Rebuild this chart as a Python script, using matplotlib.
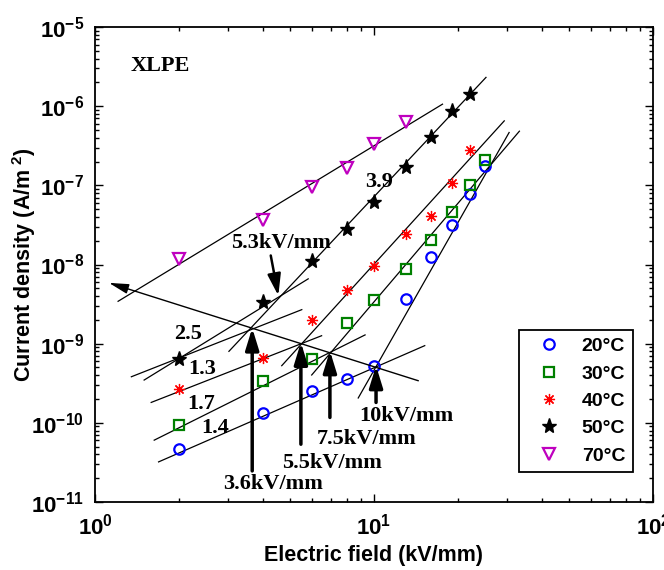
import matplotlib
matplotlib.use('Agg')
import matplotlib.pyplot as plt
from matplotlib.ticker import FixedLocator, LogLocator, NullFormatter

plt.rcParams['font.family'] = 'Liberation Sans'
plt.rcParams['mathtext.fontset'] = 'custom'
plt.rcParams['mathtext.rm'] = 'Liberation Sans:bold'
plt.rcParams['mathtext.bf'] = 'Liberation Sans:bold'
plt.rcParams['mathtext.it'] = 'Liberation Sans:bold'

# measured points, field in kV/mm, current density in A/m^2
field = [2, 4, 6, 8, 10, 13, 16, 19, 22, 25]
j20 = [4.7e-11, 1.35e-10, 2.49e-10, 3.57e-10, 5.16e-10, 3.68e-9, 1.23e-8, 3.2e-8, 7.7e-8, 1.75e-7]
j30 = [9.4e-11, 3.33e-10, 6.4e-10, 1.83e-9, 3.57e-9, 8.8e-9, 2.05e-8, 4.6e-8, 1.0e-7, 2.07e-7]
j40 = [2.67e-10, 6.5e-10, 2.0e-9, 4.7e-9, 9.5e-9, 2.45e-8, 4.05e-8, 1.08e-7, 2.77e-7]
j50 = [6.4e-10, 3.33e-9, 1.10e-8, 2.77e-8, 6.15e-8, 1.71e-7, 4.09e-7, 8.7e-7, 1.42e-6]
j70 = [1.18e-8, 3.7e-8, 9.5e-8, 1.67e-7, 3.37e-7, 6.3e-7]

# fitted straight lines (end points)
fit70 = ([1.21, 17.6], [3.43e-9, 1.06e-6])
fit50_hi = ([3.02, 25.2], [8.0e-10, 2.31e-6])
fit50_lo = ([1.50, 5.81], [3.47e-10, 6.59e-9])
fit50_lo2 = ([1.35, 5.51], [3.82e-10, 2.69e-9])
fit40_lo = ([1.59, 6.49], [1.81e-10, 1.26e-9])
fit40_hi = ([4.67, 29.3], [5.27e-10, 6.52e-7])
fit30_lo = ([1.63, 9.29], [6.04e-11, 1.29e-9])
fit30_hi = ([5.98, 33.2], [4.02e-10, 4.83e-7])
fit20_lo = ([1.69, 15.2], [3.21e-11, 9.44e-10])
fit20_hi = ([8.78, 30.5], [2.06e-10, 4.65e-7])

# threshold fields: x, arrow tip, arrow tail
thr_x = [3.66, 5.47, 6.95, 10.17]
thr_tip = [1.58e-9, 1.04e-9, 8.15e-10, 5.27e-10]
thr_tail = [2.47e-11, 5.37e-11, 1.17e-10, 1.81e-10]
thr_text = ['3.6kV/mm', '5.5kV/mm', '7.5kV/mm', '10kV/mm']

fig = plt.figure(figsize=(6.64, 5.70), dpi=100)
ax = fig.add_axes([95/664, 68/570, 558/664, 475/570])
ax.set_xscale('log')
ax.set_yscale('log')
ax.set_xlim(1, 100)
ax.set_ylim(1e-11, 1e-5)

for fx, fy in [fit70, fit50_hi, fit50_lo, fit50_lo2, fit40_lo, fit40_hi,
               fit30_lo, fit30_hi, fit20_lo, fit20_hi]:
    ax.plot(fx, fy, color='k', lw=0.9)

ax.plot(field, j20, 'o', ls='none', mfc='none', mec='b', mew=1.6, ms=7.5, label='20°C')
ax.plot(field, j30, 's', ls='none', mfc='none', mec='g', mew=1.6, ms=7.5, label='30°C')
ax.plot(field[:9], j40, marker=(8, 2, 0), ls='none', color='r', mew=0.9, ms=8, label='40°C')
ax.plot(field[:9], j50, '*', ls='none', color='k', ms=11, label='50°C')
ax.plot(field[:6], j70, 'v', ls='none', mfc='none', mec='m', mew=1.6, ms=9, label='70°C')

# threshold trend arrow
ax.annotate('', xy=(1.122, 5.86e-9), xytext=(14.42, 3.40e-10),
            arrowprops=dict(arrowstyle='-|>,head_length=0.8,head_width=0.2',
                            color='k', lw=1, mutation_scale=15, shrinkA=0, shrinkB=0))

serif = dict(family='Liberation Serif', weight='bold', size=16)
text_xy = [(4.345, 1.69e-11), (7.05, 3.14e-11), (9.41, 6.22e-11), (13.1, 1.23e-10)]
for x, tip, tail, t, (tx, ty) in zip(thr_x, thr_tip, thr_tail, thr_text, text_xy):
    ax.annotate('', xy=(x, tip), xytext=(x, tail),
                arrowprops=dict(arrowstyle='-|>,head_length=0.65,head_width=0.2',
                                color='k', lw=2.5, mutation_scale=20, shrinkA=0, shrinkB=0))
    ax.text(tx, ty, t, ha='center', va='center', **serif)

ax.annotate('', xy=(4.54, 4.05e-9), xytext=(4.265, 1.30e-8),
            arrowprops=dict(arrowstyle='-|>,head_length=0.65,head_width=0.2',
                            color='k', lw=1.8, mutation_scale=20, shrinkA=0, shrinkB=0))
ax.text(4.63, 1.85e-8, '5.3kV/mm', ha='center', va='center', **serif)

ax.text(1.71, 3.21e-6, 'XLPE', ha='center', va='center', **serif)
ax.text(10.42, 1.09e-7, '3.9', ha='center', va='center', **serif)
ax.text(2.16, 1.33e-9, '2.5', ha='center', va='center', **serif)
ax.text(2.425, 4.79e-10, '1.3', ha='center', va='center', **serif)
ax.text(2.40, 1.75e-10, '1.7', ha='center', va='center', **serif)
ax.text(2.69, 8.57e-11, '1.4', ha='center', va='center', **serif)

ax.xaxis.set_major_locator(FixedLocator([1, 10, 100]))
ax.set_xticklabels([r'$\mathbf{10^{0}}$', r'$\mathbf{10^{1}}$', r'$\mathbf{10^{2}}$'], fontsize=16)
ax.yaxis.set_major_locator(FixedLocator([1e-11, 1e-10, 1e-9, 1e-8, 1e-7, 1e-6, 1e-5]))
ax.set_yticklabels([r'$\mathbf{10^{-%d}}$' % n for n in range(11, 4, -1)], fontsize=16)
ax.xaxis.set_minor_locator(LogLocator(base=10, subs=range(2, 10), numticks=20))
ax.yaxis.set_minor_locator(LogLocator(base=10, subs=range(2, 10), numticks=20))
ax.xaxis.set_minor_formatter(NullFormatter())
ax.yaxis.set_minor_formatter(NullFormatter())
ax.tick_params(which='both', direction='in', top=True, right=True, width=1)
ax.tick_params(which='major', length=6, pad=8)
ax.tick_params(which='minor', length=3)
for s in ax.spines.values():
    s.set_linewidth(1.3)

ax.set_xlabel('Electric field (kV/mm)', fontsize=15.5, fontweight='bold', labelpad=4)
ax.set_ylabel('Current density (A/m$^{\\ 2}$)', fontsize=15.5, fontweight='bold')
ax.yaxis.set_label_coords(-0.102, 0.5)

leg = ax.legend(loc='lower right', bbox_to_anchor=(0.964, 0.0625), fancybox=False,
                edgecolor='k', framealpha=1, prop=dict(weight='bold', size=14),
                handlelength=2.2, borderpad=0.4, handletextpad=0.6, labelspacing=0.5,
                borderaxespad=0)
leg.get_frame().set_linewidth(1.3)

fig.savefig('out.png', dpi=100)
